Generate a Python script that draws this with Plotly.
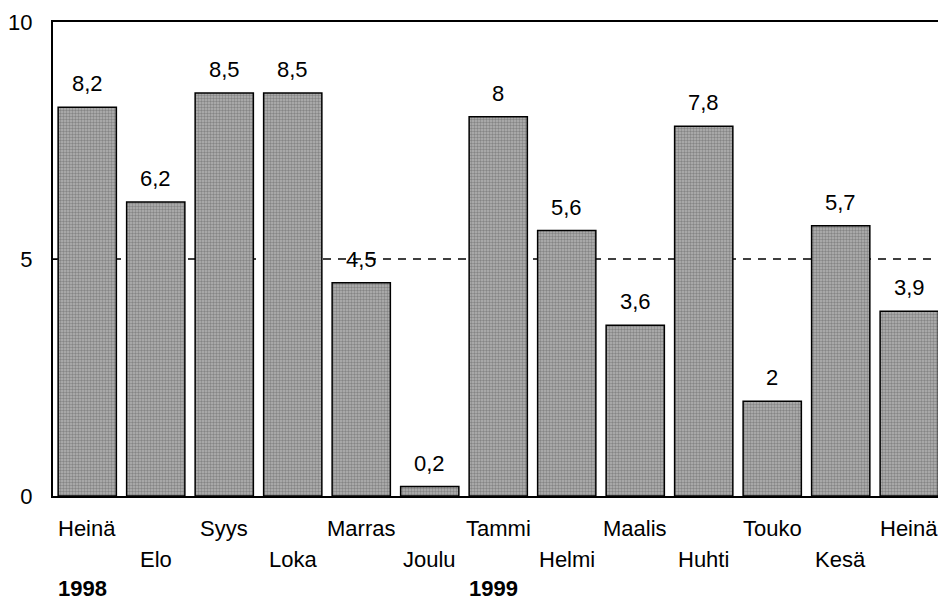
import plotly.graph_objects as go

months = ["Heinä", "Elo", "Syys", "Loka", "Marras", "Joulu", "Tammi",
          "Helmi", "Maalis", "Huhti", "Touko", "Kesä", "Heinä"]
values = [8.2, 6.2, 8.5, 8.5, 4.5, 0.2, 8.0, 5.6, 3.6, 7.8, 2.0, 5.7, 3.9]
years = ["1998", "1999"]
year_start_index = [0, 6]
y_ticks = [0, 5, 10]
reference_level = 5

FONT = "Liberation Sans, Arial, Helvetica, sans-serif"

def fmt(v):
    s = ("%g" % v)
    return s.replace(".", ",")

x = list(range(len(months)))

fig = go.Figure()
fig.add_trace(go.Bar(
    x=x, y=values,
    marker=dict(color="#a0a0a0",
                line=dict(color="black", width=1.5),
                pattern=dict(shape=".", fgcolor="#555555", bgcolor="#b4b4b4",
                             size=3, solidity=0.5)),
    hoverinfo="skip",
))

annotations = []
for i, v in enumerate(values):
    annotations.append(dict(x=i, y=v, xref="x", yref="y", text=fmt(v),
                            showarrow=False, yanchor="bottom", yshift=9,
                            font=dict(size=22, color="black", family=FONT)))
for i, m in enumerate(months):
    annotations.append(dict(x=i, y=0, xref="x", yref="paper", text=m,
                            showarrow=False, yanchor="middle",
                            yshift=-32 if i % 2 == 0 else -63,
                            font=dict(size=22, color="black", family=FONT)))
for yr, idx in zip(years, year_start_index):
    annotations.append(dict(x=idx - 0.45, y=0, xref="x", yref="paper", text="<b>%s</b>" % yr,
                            showarrow=False, yanchor="middle", xanchor="left",
                            yshift=-92,
                            font=dict(size=22, color="black", family=FONT)))

fig.add_shape(type="line", xref="paper", yref="y", x0=0, x1=1,
              y0=reference_level, y1=reference_level, layer="below",
              line=dict(color="black", width=1.3, dash="8px,7px"))

fig.update_layout(
    width=938, height=600,
    margin=dict(l=53, r=0, t=22, b=104),
    plot_bgcolor="white", paper_bgcolor="white",
    bargap=0.15,
    showlegend=False,
    annotations=annotations,
    font=dict(family=FONT, size=22, color="black"),
    xaxis=dict(range=[-0.5, 12.42], showticklabels=False, ticks="",
               showgrid=False, zeroline=False, showline=True,
               linecolor="black", linewidth=2, mirror=True),
    yaxis=dict(range=[0, 10], tickvals=y_ticks, ticks="inside", ticklen=4,
               tickcolor="black", showgrid=False, zeroline=False,
               showline=True, linecolor="black", linewidth=2,
               ticklabelstandoff=14,
               tickfont=dict(size=22, family=FONT, color="black")),
)

fig.write_html("out.html", config={"displayModeBar": False},
               post_script="document.body.style.margin='0px';document.body.style.overflow='hidden';")
